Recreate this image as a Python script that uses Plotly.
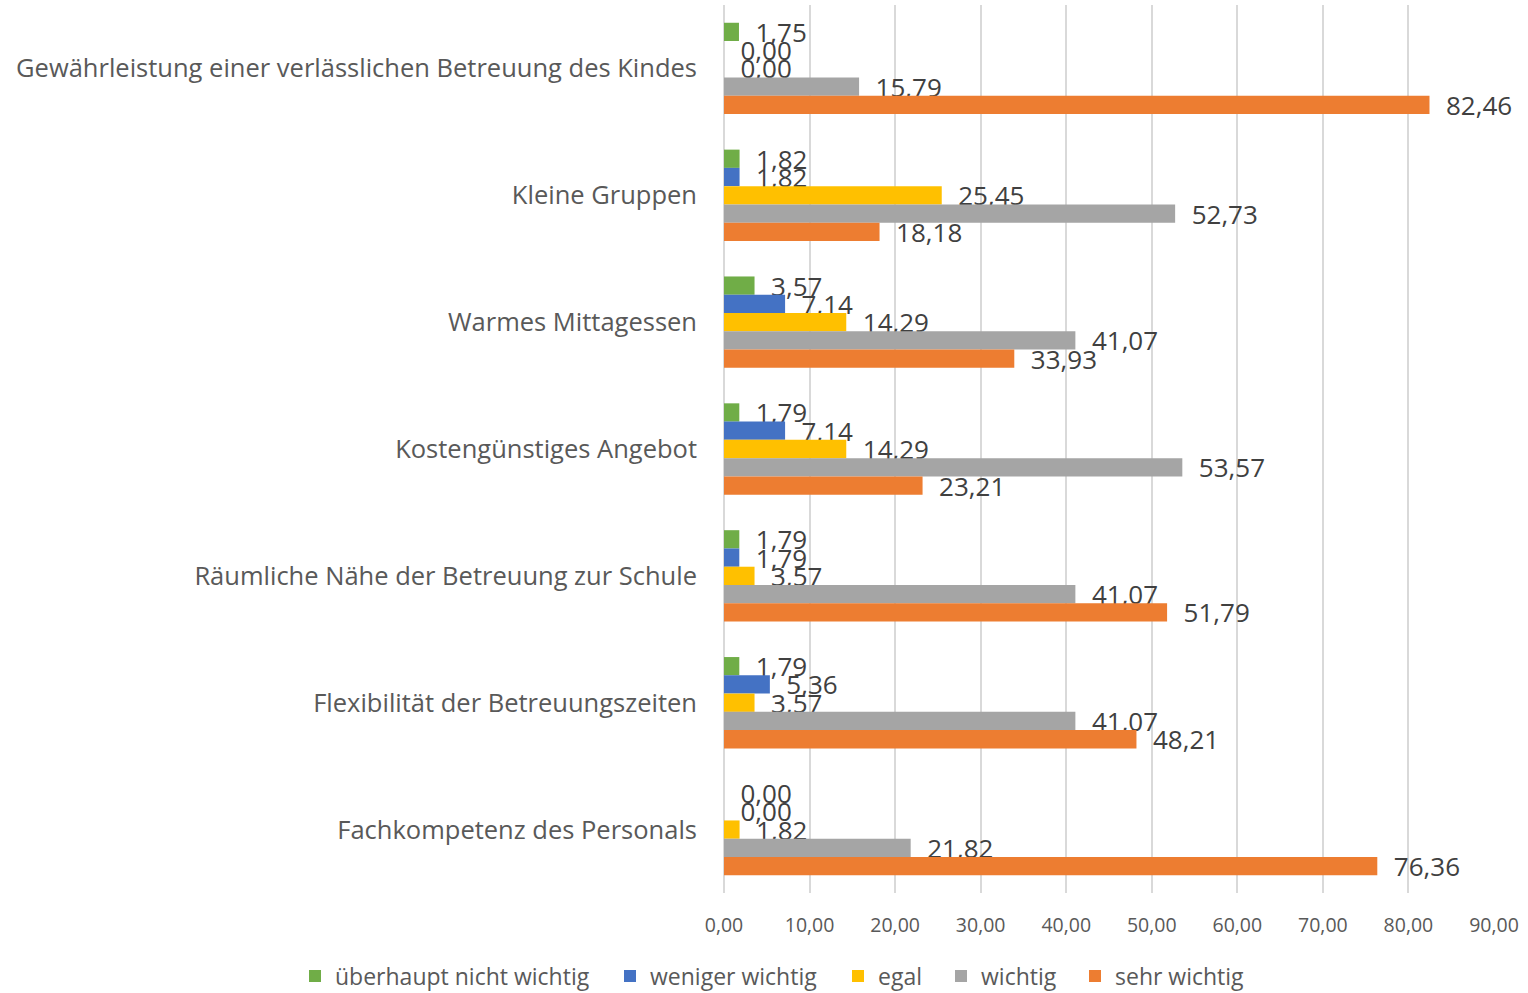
import plotly.graph_objects as go

categories = [
    "Gewährleistung einer verlässlichen Betreuung des Kindes",
    "Kleine Gruppen",
    "Warmes Mittagessen",
    "Kostengünstiges Angebot",
    "Räumliche Nähe der Betreuung zur Schule",
    "Flexibilität der Betreuungszeiten",
    "Fachkompetenz des Personals",
]

series_names = ["überhaupt nicht wichtig", "weniger wichtig", "egal", "wichtig", "sehr wichtig"]
ueberhaupt_nicht = [1.75, 1.82, 3.57, 1.79, 1.79, 1.79, 0.00]
weniger = [0.00, 1.82, 7.14, 7.14, 1.79, 5.36, 0.00]
egal = [0.00, 25.45, 14.29, 14.29, 3.57, 3.57, 1.82]
wichtig = [15.79, 52.73, 41.07, 53.57, 41.07, 41.07, 21.82]
sehr_wichtig = [82.46, 18.18, 33.93, 23.21, 51.79, 48.21, 76.36]

x_ticks = [0, 10, 20, 30, 40, 50, 60, 70, 80, 90]

colors = ["#70AD47", "#4472C4", "#FFC000", "#A5A5A5", "#ED7D31"]
values = [ueberhaupt_nicht, weniger, egal, wichtig, sehr_wichtig]

# left edges (container px) of each legend text
legend_text_x = [335, 650, 878, 981, 1115]
W, H = 1528, 993

fig = go.Figure()
legend_layouts = {}
for i, (name, vals, col) in enumerate(zip(series_names, values, colors)):
    lname = "legend" if i == 0 else f"legend{i+1}"
    fig.add_trace(go.Bar(
        y=categories, x=vals, name=name, orientation="h",
        marker=dict(color=col, line=dict(width=0)),
        text=vals, texttemplate="\u00a0\u00a0%{x:.2f}", textposition="outside",
        textfont=dict(size=26, color="#404040", family="Open Sans"),
        constraintext="none", cliponaxis=False,
        legend=lname,
    ))
    legend_layouts[lname] = dict(
        orientation="h", xref="container", yref="container",
        x=(legend_text_x[i] - 40) / W, xanchor="left",
        y=1 - 976 / H, yanchor="middle",
        font=dict(size=23, color="#595959", family="Open Sans"),
        bgcolor="rgba(0,0,0,0)", borderwidth=0,
        itemclick=False, itemdoubleclick=False,
    )

fig.update_layout(
    barmode="group",
    bargap=0.28,
    bargroupgap=0,
    separators=", ",
    width=W, height=H,
    margin=dict(l=724, r=34, t=5, b=100),
    paper_bgcolor="white", plot_bgcolor="white",
    font=dict(family="Open Sans", color="#595959"),
    showlegend=True,
    xaxis=dict(
        range=[0, 90], tickvals=x_ticks, tickformat=".2f",
        showgrid=True, gridcolor="#D9D9D9", gridwidth=1.5,
        zeroline=True, zerolinecolor="#D9D9D9", zerolinewidth=1.5,
        showline=False, ticks="",
        tickfont=dict(size=19.5, color="#595959"),
        ticklabelstandoff=18,
    ),
    yaxis=dict(
        autorange="reversed", showgrid=False, showline=False, ticks="",
        tickfont=dict(size=25.5, color="#595959"),
        ticklabelstandoff=26,
    ),
    **legend_layouts,
)

fig.write_html(
    "out.html",
    config={"displayModeBar": False},
    post_script="document.body.style.margin='0';",
)
